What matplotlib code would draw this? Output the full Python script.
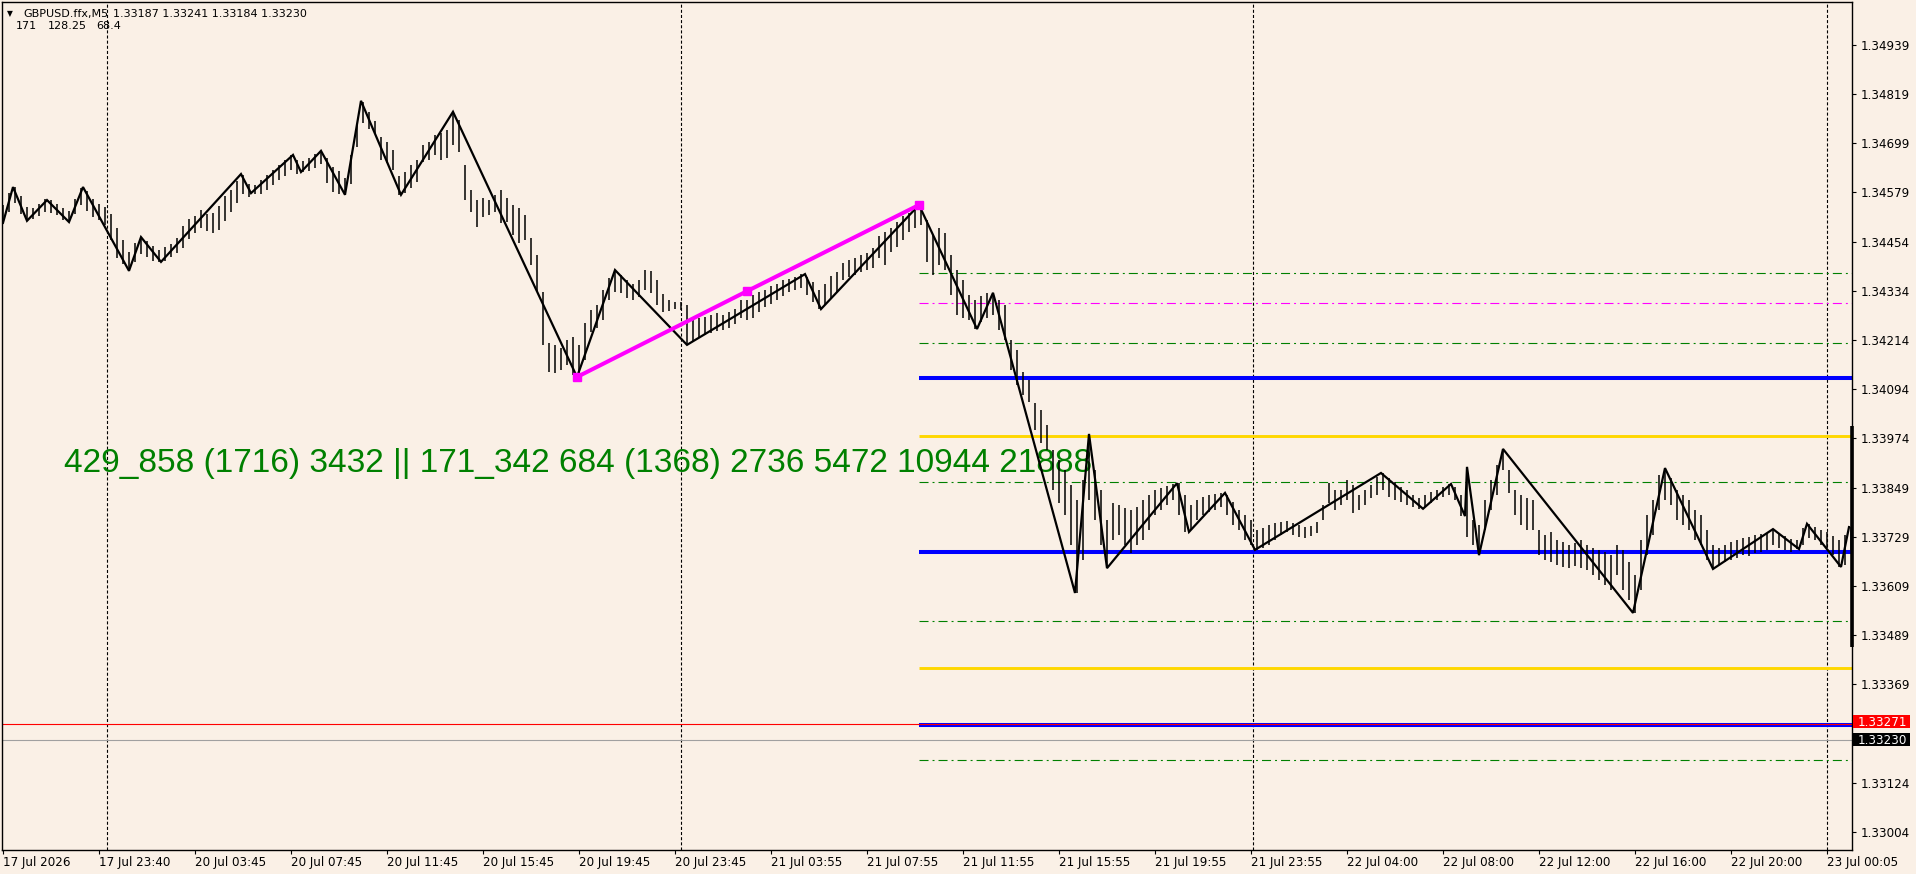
import matplotlib
matplotlib.use("Agg")
import matplotlib.pyplot as plt
import numpy as np
from matplotlib.patches import Rectangle

plt.rcParams['lines.scale_dashes'] = False
plt.rcParams['font.family'] = ['DejaVu Sans']

W, H, DPI = 1916, 874, 100
BG = '#FAF0E6'

# ---------------- data ----------------
bar_step = 3  # one sampled M5 bar out of every 3
bar_high = [
 1.34546,1.34575,1.34590,1.34568,1.34541,1.34538,1.34548,1.34561,1.34558,1.34548,
 1.34538,1.34531,1.34561,1.34588,1.34580,1.34561,1.34548,1.34541,1.34524,1.34489,
 1.34460,1.34430,1.34452,1.34467,1.34457,1.34445,1.34435,1.34442,1.34450,1.34465,
 1.34494,1.34511,1.34519,1.34533,1.34524,1.34526,1.34543,1.34568,1.34583,1.34605,
 1.34620,1.34597,1.34595,1.34607,1.34620,1.34632,1.34644,1.34656,1.34669,1.34656,
 1.34654,1.34661,1.34671,1.34679,1.34661,1.34639,1.34629,1.34612,1.34669,1.34745,
 1.34799,1.34775,1.34752,1.34713,1.34701,1.34681,1.34617,1.34627,1.34644,1.34656,
 1.34693,1.34701,1.34718,1.34723,1.34730,1.34772,1.34755,1.34644,1.34583,1.34558,
 1.34563,1.34558,1.34570,1.34583,1.34563,1.34546,1.34538,1.34521,1.34465,1.34423,
 1.34332,1.34206,1.34201,1.34194,1.34214,1.34221,1.34201,1.34255,1.34287,1.34300,
 1.34337,1.34366,1.34381,1.34374,1.34361,1.34351,1.34361,1.34386,1.34383,1.34361,
 1.34327,1.34312,1.34307,1.34307,1.34300,1.34263,1.34268,1.34270,1.34275,1.34280,
 1.34275,1.34283,1.34290,1.34312,1.34312,1.34324,1.34332,1.34337,1.34346,1.34351,
 1.34361,1.34364,1.34369,1.34376,1.34369,1.34356,1.34337,1.34351,1.34371,1.34381,
 1.34403,1.34410,1.34415,1.34423,1.34428,1.34440,1.34469,1.34479,1.34489,1.34504,
 1.34519,1.34526,1.34533,1.34546,1.34509,1.34472,1.34489,1.34477,1.34423,1.34386,
 1.34361,1.34324,1.34312,1.34322,1.34329,1.34329,1.34312,1.34300,1.34214,1.34190,
 1.34136,1.34116,1.34060,1.34042,1.34006,1.33944,1.33919,1.33895,1.33858,1.33821,
 1.33870,1.33983,1.33895,1.33846,1.33772,1.33814,1.33809,1.33801,1.33796,1.33804,
 1.33821,1.33833,1.33846,1.33851,1.33855,1.33860,1.33863,1.33833,1.33809,1.33821,
 1.33828,1.33833,1.33836,1.33838,1.33833,1.33816,1.33796,1.33784,1.33772,1.33747,
 1.33752,1.33760,1.33764,1.33767,1.33769,1.33764,1.33760,1.33755,1.33757,1.33767,
 1.33809,1.33863,1.33846,1.33846,1.33870,1.33858,1.33833,1.33846,1.33858,1.33878,
 1.33887,1.33875,1.33865,1.33853,1.33846,1.33833,1.33826,1.33833,1.33841,1.33846,
 1.33853,1.33860,1.33853,1.33833,1.33902,1.33772,1.33760,1.33821,1.33870,1.33907,
 1.33946,1.33895,1.33846,1.33833,1.33826,1.33821,1.33747,1.33735,1.33742,1.33723,
 1.33718,1.33710,1.33715,1.33723,1.33710,1.33703,1.33698,1.33693,1.33685,1.33710,
 1.33698,1.33668,1.33637,1.33723,1.33784,1.33821,1.33882,1.33900,1.33875,1.33846,
 1.33833,1.33821,1.33796,1.33784,1.33747,1.33710,1.33703,1.33710,1.33718,1.33723,
 1.33728,1.33730,1.33735,1.33737,1.33740,1.33750,1.33740,1.33732,1.33725,1.33723,
 1.33752,1.33762,1.33755,1.33747,1.33742,1.33732,1.33723,1.33735,1.33755]
bar_low = [
 1.34501,1.34529,1.34551,1.34524,1.34506,1.34511,1.34519,1.34529,1.34526,1.34521,
 1.34509,1.34504,1.34524,1.34546,1.34531,1.34516,1.34509,1.34497,1.34460,1.34415,
 1.34401,1.34383,1.34406,1.34425,1.34418,1.34408,1.34406,1.34408,1.34418,1.34428,
 1.34440,1.34462,1.34477,1.34489,1.34482,1.34477,1.34484,1.34506,1.34529,1.34551,
 1.34573,1.34565,1.34573,1.34573,1.34583,1.34595,1.34607,1.34617,1.34632,1.34622,
 1.34627,1.34629,1.34637,1.34647,1.34600,1.34578,1.34573,1.34570,1.34597,1.34688,
 1.34747,1.34733,1.34720,1.34656,1.34649,1.34632,1.34570,1.34575,1.34588,1.34602,
 1.34652,1.34656,1.34669,1.34656,1.34661,1.34693,1.34676,1.34558,1.34529,1.34492,
 1.34516,1.34521,1.34529,1.34501,1.34504,1.34472,1.34452,1.34460,1.34398,1.34332,
 1.34201,1.34136,1.34133,1.34141,1.34153,1.34129,1.34124,1.34165,1.34233,1.34243,
 1.34263,1.34312,1.34332,1.34329,1.34317,1.34312,1.34319,1.34337,1.34329,1.34300,
 1.34283,1.34285,1.34290,1.34287,1.34201,1.34209,1.34221,1.34226,1.34231,1.34236,
 1.34238,1.34243,1.34253,1.34268,1.34263,1.34268,1.34283,1.34295,1.34302,1.34312,
 1.34322,1.34332,1.34337,1.34342,1.34324,1.34307,1.34290,1.34300,1.34317,1.34332,
 1.34361,1.34369,1.34374,1.34381,1.34386,1.34391,1.34415,1.34398,1.34430,1.34442,
 1.34460,1.34479,1.34489,1.34497,1.34406,1.34374,1.34398,1.34386,1.34324,1.34275,
 1.34268,1.34263,1.34241,1.34258,1.34268,1.34275,1.34238,1.34214,1.34141,1.34104,
 1.34079,1.34062,1.33993,1.33961,1.33944,1.33846,1.33814,1.33784,1.33710,1.33592,
 1.33673,1.33821,1.33772,1.33710,1.33654,1.33723,1.33735,1.33710,1.33691,1.33710,
 1.33723,1.33747,1.33784,1.33796,1.33809,1.33821,1.33784,1.33742,1.33747,1.33772,
 1.33784,1.33791,1.33796,1.33804,1.33784,1.33760,1.33747,1.33723,1.33710,1.33698,
 1.33703,1.33710,1.33723,1.33735,1.33742,1.33735,1.33730,1.33728,1.33732,1.33740,
 1.33772,1.33814,1.33796,1.33809,1.33821,1.33789,1.33796,1.33809,1.33826,1.33833,
 1.33846,1.33828,1.33821,1.33816,1.33809,1.33804,1.33799,1.33804,1.33814,1.33821,
 1.33828,1.33833,1.33821,1.33782,1.33730,1.33710,1.33685,1.33747,1.33796,1.33833,
 1.33895,1.33838,1.33784,1.33760,1.33747,1.33747,1.33685,1.33673,1.33668,1.33661,
 1.33656,1.33654,1.33659,1.33654,1.33649,1.33637,1.33624,1.33612,1.33600,1.33637,
 1.33600,1.33575,1.33543,1.33600,1.33685,1.33735,1.33796,1.33821,1.33809,1.33772,
 1.33760,1.33747,1.33723,1.33710,1.33673,1.33651,1.33661,1.33668,1.33673,1.33678,
 1.33685,1.33683,1.33691,1.33693,1.33698,1.33710,1.33703,1.33698,1.33693,1.33700,
 1.33710,1.33728,1.33723,1.33710,1.33703,1.33685,1.33656,1.33661,1.33698]

zz_index = [0, 5, 12, 22, 33, 40, 63, 69, 79, 119, 124, 145, 149, 159, 171, 179,
            199, 225, 287, 306, 342, 401, 409, 458, 487, 495, 536, 543, 552, 587,
            593, 611, 626, 689, 710, 724, 731, 732, 738, 750, 815, 831, 855, 885,
            898, 902, 919, 923]
zz_price = [1.34502, 1.34590, 1.34507, 1.34558, 1.34504, 1.34590, 1.34384, 1.34467,
            1.34406, 1.34622, 1.34575, 1.34669, 1.34627, 1.34679, 1.34571, 1.34802,
            1.34571, 1.34775, 1.34123, 1.34386, 1.34202, 1.34376, 1.34290, 1.34546,
            1.34241, 1.34330, 1.33592, 1.33983, 1.33653, 1.33862, 1.33742, 1.33838,
            1.33698, 1.33887, 1.33799, 1.33860, 1.33781, 1.33902, 1.33685, 1.33946,
            1.33543, 1.33899, 1.33651, 1.33749, 1.33700, 1.33762, 1.33656, 1.33754]

fib_index = [287, 372, 458]
fib_price = [1.34123, 1.34334, 1.34546]

level_start = 458
green_levels = [1.34379, 1.34207, 1.33865, 1.33523, 1.33181]
magenta_levels = [1.34305]
yellow_levels = [1.33978, 1.33408]
blue_levels = [1.34121, 1.33693, 1.33267]
ask_price = 1.33271
bid_price = 1.33230
right_bar = [1.34003, 1.33459]

price_ticks = [1.34939, 1.34819, 1.34699, 1.34579, 1.34454, 1.34334, 1.34214,
               1.34094, 1.33974, 1.33849, 1.33729, 1.33609, 1.33489, 1.33369,
               1.33124, 1.33004]
time_tick_index = [0, 48, 96, 144, 192, 240, 288, 336, 384, 432, 480, 528, 576,
                   624, 672, 720, 768, 816, 864, 912]
time_tick_labels = ['17 Jul 2026', '17 Jul 23:40', '20 Jul 03:45', '20 Jul 07:45',
                    '20 Jul 11:45', '20 Jul 15:45', '20 Jul 19:45', '20 Jul 23:45',
                    '21 Jul 03:55', '21 Jul 07:55', '21 Jul 11:55', '21 Jul 15:55',
                    '21 Jul 19:55', '21 Jul 23:55', '22 Jul 04:00', '22 Jul 08:00',
                    '22 Jul 12:00', '22 Jul 16:00', '22 Jul 20:00', '23 Jul 00:05']
separator_index = [52, 339, 625, 912]

header_symbol = 'GBPUSD.ffx,M5'
header_ohlc = '1.33187 1.33241 1.33184 1.33230'
header_line2 = ['171', '128.25', '68.4']
big_label = '429_858 (1716) 3432 || 171_342 684 (1368) 2736 5472 10944 21888'

# ---------------- figure ----------------
L, R, T, B = 2, 1852, 2, 850
fig = plt.figure(figsize=(W / DPI, H / DPI), dpi=DPI, facecolor=BG)
ax = fig.add_axes([L / W, 1 - B / H, (R - L) / W, (B - T) / H])
ax.set_facecolor(BG)
ax.set_xlim(-0.5, 924.5)
ax.set_ylim(1.32960, 1.35045)
for s in ax.spines.values():
    s.set_color('black')
    s.set_linewidth(1.0)

def px(x, y):
    return x / W, 1 - y / H

# period separators
for i in separator_index:
    ax.axvline(i, color='black', lw=0.8, linestyle=(0, (2.2, 1.5)), zorder=1)

# horizontal levels
xe = 924.5
for p in green_levels:
    ax.plot([level_start, xe], [p, p], color='#008000', lw=0.8,
            linestyle=(0, (6.5, 2.9, 1.4, 2.9)), zorder=1.2)
for p in magenta_levels:
    ax.plot([level_start, xe], [p, p], color='#FF00FF', lw=0.8,
            linestyle=(0, (6.5, 2.9, 1.4, 2.9)), zorder=1.2)
for p in yellow_levels:
    ax.plot([level_start, xe], [p, p], color='#FFD700', lw=2.1, zorder=1.3,
            solid_capstyle='butt')
ax.axhline(bid_price, color='#A0A0A0', lw=0.8, zorder=1.1)
ax.axhline(ask_price, color='#FF0000', lw=0.8, zorder=1.4)
for p in blue_levels:
    ax.plot([level_start, xe], [p, p], color='#0000FF', lw=2.9, zorder=1.35,
            solid_capstyle='butt')

# big green label (behind bars)
ax.text(64 / W, 1 - 472 / H, big_label, transform=fig.transFigure,
        fontsize=24, color='#008000', family=['Liberation Sans', 'DejaVu Sans'],
        va='baseline', ha='left', zorder=1.5)

# bars
bar_x = np.arange(len(bar_high)) * bar_step
ax.vlines(bar_x, bar_low, bar_high, color='black', lw=1.1, zorder=2)

# zigzag
ax.plot(zz_index, zz_price, color='black', lw=1.6, zorder=3, solid_joinstyle='miter')

# fibo-like magenta line
ax.plot(fib_index, fib_price, color='#FF00FF', lw=2.9, zorder=4,
        marker='s', markersize=5.5, markerfacecolor='#FF00FF', markeredgecolor='#FF00FF')

# thick bar at right border
ax.plot([924.4, 924.4], right_bar, color='black', lw=2.6, zorder=5, clip_on=False,
        solid_capstyle='butt')

# axes ticks
ax.yaxis.tick_right()
ax.set_yticks(price_ticks)
ax.set_yticklabels(['%.5f' % v for v in price_ticks])
ax.set_xticks(time_tick_index)
ax.set_xticklabels(time_tick_labels, ha='left')
ax.tick_params(axis='both', direction='out', length=3.0, width=0.8, color='black',
               labelsize=8.6, labelcolor='black')
ax.tick_params(axis='y', pad=3.5)
ax.tick_params(axis='x', pad=1.5)

# price labels boxes
fig.patches.append(Rectangle(px(1853, 728), 57 / W, 13 / H, transform=fig.transFigure,
                             facecolor='#FF0000', edgecolor='none', zorder=5))
fig.text(*px(1858, 722), '%.5f' % ask_price, color='white', fontsize=8.6,
         va='center', ha='left', zorder=6)
fig.patches.append(Rectangle(px(1853, 746), 57 / W, 13 / H, transform=fig.transFigure,
                             facecolor='#000000', edgecolor='none', zorder=5))
fig.text(*px(1858, 740), '%.5f' % bid_price, color='white', fontsize=8.6,
         va='center', ha='left', zorder=6)

# header
fig.text(*px(7, 14), '\u25BC', fontsize=5.5, va='center', ha='left', color='black')
fig.text(*px(23, 14), header_symbol, fontsize=8, va='center', ha='left', color='black')
fig.text(*px(113, 14), header_ohlc, fontsize=8, va='center', ha='left', color='black')
for xx, t in zip([16, 48, 96], header_line2):
    fig.text(*px(xx, 26), t, fontsize=8, va='center', ha='left', color='black')

fig.savefig('out.png', dpi=DPI, facecolor=BG)
